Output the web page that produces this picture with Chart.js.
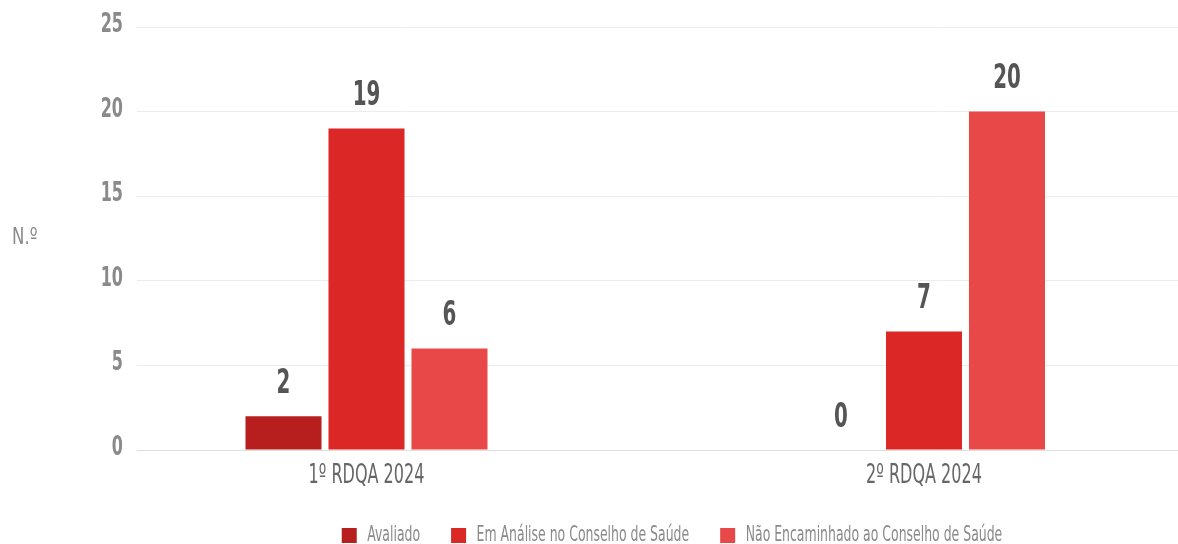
<!DOCTYPE html>
<html><head><meta charset="utf-8">
<script src="https://cdn.jsdelivr.net/npm/chart.js@4.4.1/dist/chart.umd.min.js"></script>
<style>
html,body{margin:0;padding:0;overflow:hidden;background:#fff;width:1178px;height:544px}
#wrap{position:absolute;left:0;top:0;width:1207px;height:556px}
</style>
</head><body><div id="wrap"><canvas id="c" width="1207" height="556"></canvas></div>
<script>
const categories = ['1º RDQA 2024', '2º RDQA 2024'];
const seriesNames = ['Avaliado', 'Em Análise no Conselho de Saúde', 'Não Encaminhado ao Conselho de Saúde'];
const avaliado = [2, 0];
const emAnalise = [19, 7];
const naoEncaminhado = [6, 20];
const yTicks = [0, 5, 10, 15, 20, 25];
const yTitle = 'N.º';

const seriesValues = [avaliado, emAnalise, naoEncaminhado];
const colors = ['#b71f1f', '#dc2727', '#e84848'];
const FONT = "'DejaVu Sans Condensed', 'Liberation Sans Narrow', sans-serif";
Chart.defaults.font.family = FONT;

// condensed rendering of canvas text (real text, narrowed horizontally)
const canvas = document.getElementById('c');
const cctx = canvas.getContext('2d');
cctx.__sx = 0.66;
const _fill = cctx.fillText.bind(cctx);
const _measure = cctx.measureText.bind(cctx);
cctx.fillText = function (t, x, y, mw) {
  const sx = this.__sx;
  this.save();
  this.translate(x, y);
  this.scale(sx, 1);
  if (mw === undefined || mw === null) _fill(t, 0, 0); else _fill(t, 0, 0, mw / sx);
  this.restore();
};
cctx.measureText = function (t) {
  const m = _measure(t);
  const sx = this.__sx;
  return {
    width: m.width * sx,
    actualBoundingBoxAscent: m.actualBoundingBoxAscent,
    actualBoundingBoxDescent: m.actualBoundingBoxDescent,
    actualBoundingBoxLeft: m.actualBoundingBoxLeft * sx,
    actualBoundingBoxRight: m.actualBoundingBoxRight * sx,
    fontBoundingBoxAscent: m.fontBoundingBoxAscent,
    fontBoundingBoxDescent: m.fontBoundingBoxDescent
  };
};

const valueLabels = {
  id: 'valueLabels',
  afterDatasetsDraw(chart) {
    const ctx = chart.ctx;
    ctx.save();
    ctx.__sx = 0.65;
    ctx.font = 'bold 34px ' + FONT;
    ctx.fillStyle = '#555555';
    ctx.textAlign = 'center';
    ctx.textBaseline = 'alphabetic';
    chart.data.datasets.forEach((ds, i) => {
      const meta = chart.getDatasetMeta(i);
      meta.data.forEach((el, j) => {
        ctx.fillText(String(ds.data[j].y), el.x, el.y - 23.5);
      });
    });
    ctx.__sx = 0.66;
    ctx.restore();
  }
};
const yTitlePlugin = {
  id: 'yTitlePlugin',
  afterDraw(chart) {
    const {ctx, chartArea} = chart;
    ctx.save();
    ctx.__sx = 0.8;
    ctx.font = '23px ' + FONT;
    ctx.fillStyle = '#8a8a8a';
    ctx.textAlign = 'left';
    ctx.textBaseline = 'middle';
    ctx.fillText(yTitle, 12, (chartArea.top + chartArea.bottom) / 2);
    ctx.__sx = 0.66;
    ctx.restore();
  }
};

new Chart(canvas, {
  type: 'bar',
  data: {
    datasets: seriesNames.map((name, i) => ({
      label: name,
      data: seriesValues[i].map((v, j) => ({x: j, y: v})),
      backgroundColor: colors[i],
      borderWidth: 0,
      categoryPercentage: 0.4466,
      barPercentage: 0.916
    }))
  },
  options: {
    responsive: false,
    animation: false,
    devicePixelRatio: 1,
    layout: {padding: {left: 90, top: 27, right: 0, bottom: 0}},
    plugins: {
      tooltip: {enabled: false},
      legend: {
        position: 'bottom',
        fullSize: false,
        labels: {boxWidth: 15, boxHeight: 15, padding: 31, color: '#8a8a8a', font: {size: 21}}
      }
    },
    scales: {
      x: {
        type: 'linear',
        offset: false,
        min: -0.41166,
        max: 1.50762,
        grid: {display: false, offset: false},
        border: {display: false},
        afterBuildTicks: s => { s.ticks = categories.map((c, i) => ({value: i})); },
        afterFit: s => { s.height = 44; s.paddingLeft = 0; s.paddingRight = 0; },
        ticks: {
          autoSkip: false, maxRotation: 0, padding: 2,
          color: '#666666', font: {size: 27},
          callback: v => categories[v]
        }
      },
      y: {
        min: 0, max: 25,
        afterBuildTicks: s => { s.ticks = yTicks.map(v => ({value: v})); },
        afterFit: s => { s.width = 47; s.paddingTop = 0; s.paddingBottom = 0; },
        border: {display: false},
        grid: {drawTicks: false, color: c => c.tick && c.tick.value === 0 ? '#dedede' : '#ececec'},
        ticks: {padding: 14, labelOffset: -2, color: '#8a8a8a', font: {size: 27, weight: 'bold'}}
      }
    }
  },
  plugins: [valueLabels, yTitlePlugin]
});
</script>
</body></html>
